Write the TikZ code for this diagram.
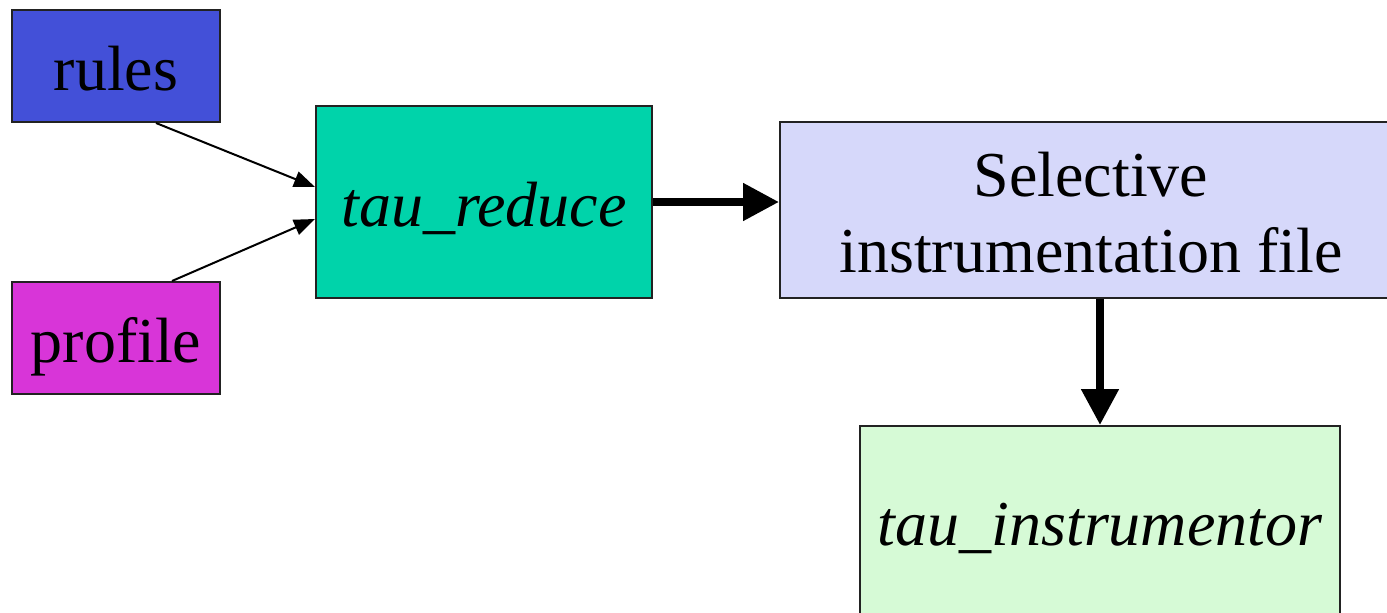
\documentclass[tikz,border=0pt]{standalone}
\usepackage{fontspec}
\setmainfont{Liberation Serif}
\usetikzlibrary{arrows.meta}
\definecolor{rulesblue}{RGB}{67,80,216}
\definecolor{profmag}{RGB}{216,53,216}
\definecolor{redteal}{RGB}{0,211,170}
\definecolor{sellav}{RGB}{214,216,250}
\definecolor{instgreen}{RGB}{214,250,214}
\definecolor{edgegray}{RGB}{34,34,34}
\tikzset{
  box/.style={draw=edgegray, line width=2pt, inner sep=0pt, align=center,
    font=\fontsize{64pt}{76pt}\selectfont, text height=64pt, text depth=16pt},
  thin/.style={line width=2pt, -{Triangle[length=21pt,width=16pt]}},
  thick/.style={line width=8pt, -{Triangle[length=36pt,width=36pt]}}
}
\begin{document}
\begin{tikzpicture}[x=1pt,y=-1pt]
\useasboundingbox (0,0) rectangle (1387,613);
\clip (0,0) rectangle (1387,613);
\fill[white] (0,0) rectangle (1387,613);
\node[box, fill=rulesblue, minimum width=208pt, minimum height=112pt] (rules) at (116,66) {rules};
\node[box, fill=profmag, minimum width=208pt, minimum height=112pt] (profile) at (116,338) {profile};
\node[box, fill=redteal, minimum width=336pt, minimum height=192pt] (reduce) at (484,202) {\itshape tau\_reduce};
\node[box, fill=sellav, minimum width=622pt, minimum height=176pt, text height=140pt] (sel) at (1091,210) {Selective\\instrumentation file};
\node[box, fill=instgreen, minimum width=480pt, minimum height=190pt] (instr) at (1100,521) {\itshape tau\_instrumentor};
\draw[thin] ([xshift=40pt]rules.south) -- ([yshift=15pt]reduce.west);
\draw[thin] ([xshift=56pt]profile.north) -- ([yshift=-17pt]reduce.west);
\draw[thick] (reduce.east) -- (reduce.east -| sel.west);
\draw[thick] (instr.north |- sel.south) -- (instr.north);
\end{tikzpicture}
\end{document}
